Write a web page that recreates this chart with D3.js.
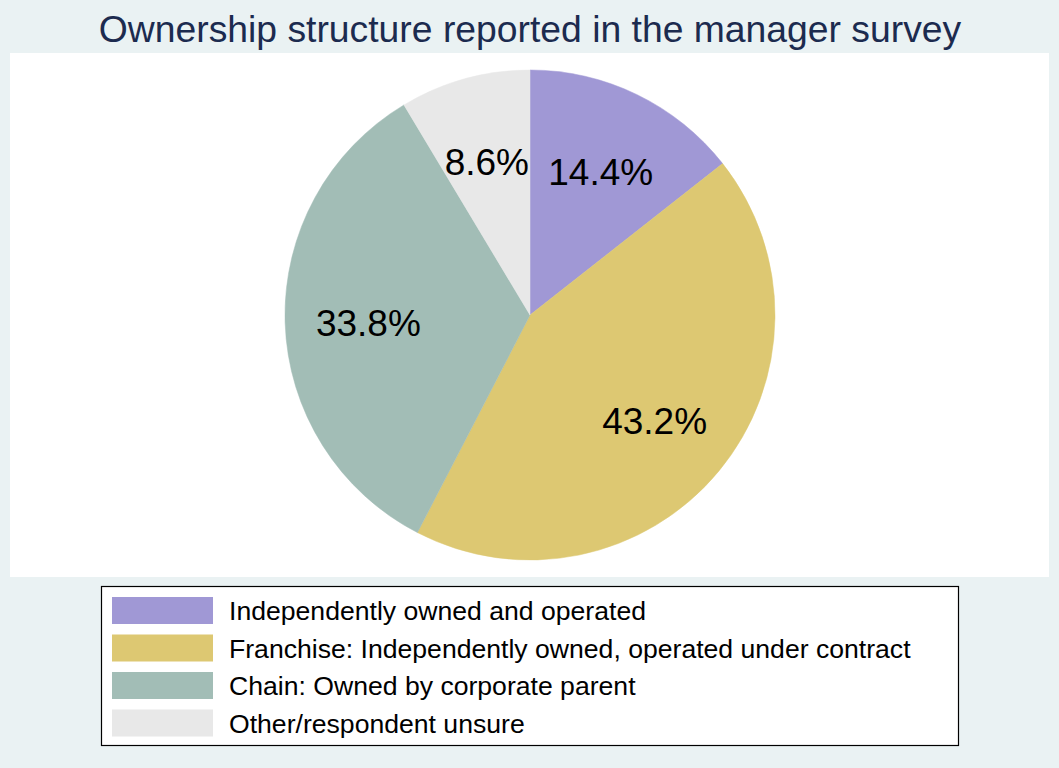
<!DOCTYPE html>
<html>
<head>
<meta charset="utf-8">
<script src="https://cdn.jsdelivr.net/npm/d3@7"></script>
<style>
  html, body { margin: 0; padding: 0; background: #eaf2f3; }
  svg { display: block; }
  text { font-family: "Liberation Sans", Arial, Helvetica, sans-serif; }
</style>
</head>
<body>
<script>
// Ownership categories and their shares (percent)
const categories = [
  "Independently owned and operated",
  "Franchise: Independently owned, operated under contract",
  "Chain: Owned by corporate parent",
  "Other/respondent unsure"
];
const shares = [14.4, 43.2, 33.8, 8.6];
const colors = ["#a098d5", "#ddc872", "#a2bdb6", "#e8e8e8"];
const title = "Ownership structure reported in the manager survey";

const W = 1059, H = 768;
const svg = d3.select("body").append("svg").attr("width", W).attr("height", H);

// page background and white plot region
svg.append("rect").attr("width", W).attr("height", H).attr("fill", "#eaf2f3");
svg.append("rect").attr("x", 10).attr("y", 53).attr("width", 1039).attr("height", 524).attr("fill", "#ffffff");

// title
svg.append("text")
  .attr("x", 530).attr("y", 42)
  .attr("text-anchor", "middle")
  .attr("font-size", 37.3)
  .attr("fill", "#1c2b4f")
  .text(title);

// pie, starting at 12 o'clock and running clockwise
const cx = 530, cy = 315, R = 245;
const data = categories.map((c, i) => ({ cat: c, value: shares[i], color: colors[i] }));
const pie = d3.pie().value(d => d.value).sort(null);
const arc = d3.arc().innerRadius(0).outerRadius(R);
const labelArc = d3.arc().innerRadius(R * 0.66).outerRadius(R * 0.66);

const g = svg.append("g").attr("transform", `translate(${cx},${cy})`);
const arcs = pie(data);
g.selectAll("path.slice")
  .data(arcs)
  .join("path")
  .attr("class", "slice")
  .attr("d", arc)
  .attr("fill", d => d.data.color)
  .attr("stroke", d => d.data.color)
  .attr("stroke-width", 0.5);

g.selectAll("text.lbl")
  .data(arcs)
  .join("text")
  .attr("class", "lbl")
  .attr("transform", d => `translate(${labelArc.centroid(d)})`)
  .attr("text-anchor", "middle")
  .attr("dy", "0.42em")
  .attr("font-size", 37)
  .attr("fill", "#000")
  .text(d => d.data.value.toFixed(1) + "%");

// legend
const lg = svg.append("g");
lg.append("rect")
  .attr("x", 101.5).attr("y", 586.5).attr("width", 857).attr("height", 159)
  .attr("fill", "#ffffff").attr("stroke", "#000").attr("stroke-width", 1.2);

const rows = lg.selectAll("g.row")
  .data(data)
  .join("g")
  .attr("class", "row")
  .attr("transform", (d, i) => `translate(112, ${597 + i * 37.5})`);
rows.append("rect")
  .attr("width", 101).attr("height", 27)
  .attr("fill", d => d.color);
rows.append("text")
  .attr("x", 117).attr("y", 13.5)
  .attr("dy", "0.36em")
  .attr("font-size", 26.6)
  .attr("fill", "#000")
  .text(d => d.cat);
</script>
</body>
</html>
